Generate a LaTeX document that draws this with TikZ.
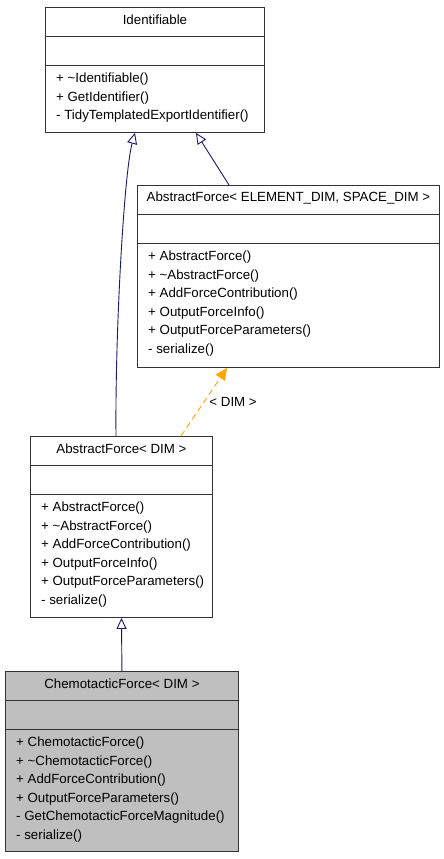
\documentclass[tikz,border=0pt]{standalone}
\usepackage{fontspec}
\setmainfont{Liberation Sans}
\usetikzlibrary{arrows.meta}
\definecolor{edgeblue}{HTML}{191970}
\definecolor{tmplorange}{HTML}{FFA500}
\definecolor{boxgray}{HTML}{BFBFBF}
\tikzset{
  umlbox/.style={draw=black!80, line width=0.9pt, inner sep=0pt, anchor=north west},
  umltext/.style={inner sep=0pt, font=\fontsize{13.3}{16}\selectfont},
  inherit/.style={edgeblue, line width=0.9pt, -{Triangle[open, length=11pt, width=10pt]}},
  tmpl/.style={tmplorange, line width=0.9pt, dashed, dash pattern=on 6pt off 4pt, -{Triangle[length=12pt, width=11pt]}}
}
% #1 name, #2 left, #3 top, #4 width, #5 height, #6 fill, #7 title, #8 methods
\newcommand{\classbox}[8]{
    \node[umlbox, fill=#6, minimum width=#4pt, minimum height=#5pt] (#1) at (#2,#3) {};
    \draw[black!80, line width=0.9pt] ([yshift=-29pt]#1.north west) -- ([yshift=-29pt]#1.north east);
    \draw[black!80, line width=0.9pt] ([yshift=-58pt]#1.north west) -- ([yshift=-58pt]#1.north east);
    \node[umltext] (#1-title) at ([yshift=-13pt]#1.north) {#7};
    \foreach \m [count=\i] in {#8}
        \node[umltext, anchor=west] at ([xshift=11pt, yshift={-72pt-(\i-1)*18.6pt}]#1.north west) {\m};
}

\begin{document}
\begin{tikzpicture}[x=1pt, y=-1pt]
    \useasboundingbox (0,0) rectangle (444,859);

    \classbox{ident}{45}{7}{219}{125}{white}{Identifiable}
        {+ \textasciitilde Identifiable(), + GetIdentifier(), - TidyTemplatedExportIdentifier()}

    \classbox{absES}{137}{185}{302}{182}{white}{AbstractForce< ELEMENT\_DIM, SPACE\_DIM >}
        {+ AbstractForce(), + \textasciitilde AbstractForce(), + AddForceContribution(),
         + OutputForceInfo(), + OutputForceParameters(), - serialize()}

    \classbox{absDim}{30}{436}{182}{181}{white}{AbstractForce< DIM >}
        {+ AbstractForce(), + \textasciitilde AbstractForce(), + AddForceContribution(),
         + OutputForceInfo(), + OutputForceParameters(), - serialize()}

    \classbox{chemo}{5}{671}{233}{180}{boxgray}{ChemotacticForce< DIM >}
        {+ ChemotacticForce(), + \textasciitilde ChemotacticForce(), + AddForceContribution(),
         + OutputForceParameters(), - GetChemotacticForceMagnitude(), - serialize()}

    % inheritance
    \draw[inherit] ([xshift=86pt]absDim.north west)
        .. controls ([xshift=70pt, yshift=-200pt]ident.south west) and ([xshift=79pt, yshift=-40pt]ident.south west)
        .. ([xshift=90pt]ident.south west);
    \draw[inherit] ([xshift=92pt]absES.north west) -- ([xshift=151pt]ident.south west);
    \draw[inherit] (chemo.north) -- (absDim.south);

    % template instance
    \draw[tmpl] ([xshift=151pt]absDim.north west) -- node[umltext, text=black, right, inner sep=5pt] {< DIM >} ([xshift=90pt]absES.south west);
\end{tikzpicture}
\end{document}
